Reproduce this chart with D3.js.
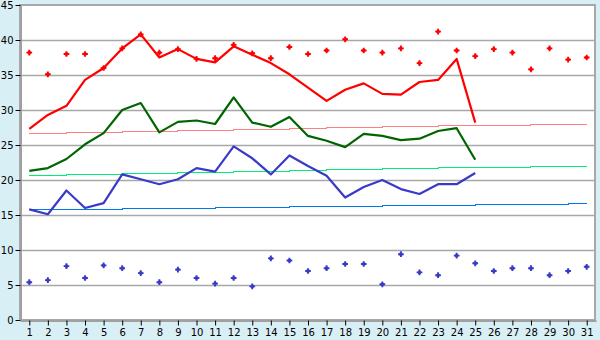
<!DOCTYPE html>
<html>
<head>
<meta charset="utf-8">
<script src="https://cdn.jsdelivr.net/npm/d3@7"></script>
<style>
  body { margin: 0; background: #d9eff6; }
  text { font-family: "DejaVu Sans", Verdana, sans-serif; font-size: 10px; fill: #000; }
</style>
</head>
<body>
<script>
var width = 600, height = 340;
var margin = {top: 5, right: 4, bottom: 20, left: 20};

// days of the month
var days = d3.range(1, 32);
var yTicks = [0, 5, 10, 15, 20, 25, 30, 35, 40, 45];

// daily max / mean / min (days 1..25)
var maxTemp = [27.3, 29.3, 30.6, 34.3, 36.0, 38.8, 40.8, 37.5, 38.7, 37.3, 36.8, 39.1, 37.9, 36.7, 35.1,
               33.2, 31.3, 32.9, 33.8, 32.3, 32.2, 34.0, 34.3, 37.3, 28.2];
var meanTemp = [21.3, 21.7, 23.0, 25.1, 26.7, 30.0, 31.0, 26.8, 28.3, 28.5, 28.0, 31.8, 28.2, 27.6, 29.0,
                26.3, 25.6, 24.7, 26.6, 26.3, 25.7, 25.9, 27.0, 27.4, 22.9];
var minTemp = [15.8, 15.1, 18.5, 16.0, 16.7, 20.8, 20.1, 19.4, 20.1, 21.7, 21.2, 24.8, 23.1, 20.8, 23.5,
               22.0, 20.6, 17.5, 19.0, 20.0, 18.7, 18.0, 19.4, 19.4, 21.0];

// record high / low for each day
var recordMax = [38.2, 35.1, 38.0, 38.0, 36.0, 38.8, 40.8, 38.2, 38.7, 37.3, 37.4, 39.3, 38.1, 37.4, 39.0,
                 38.0, 38.5, 40.1, 38.5, 38.2, 38.8, 36.7, 41.2, 38.5, 37.7, 38.7, 38.2, 35.8, 38.8, 37.2, 37.5];
var recordMin = [5.4, 5.7, 7.7, 6.0, 7.8, 7.4, 6.7, 5.4, 7.2, 6.0, 5.2, 6.0, 4.8, 8.8, 8.5,
                 7.0, 7.4, 8.0, 8.0, 5.1, 9.4, 6.8, 6.4, 9.2, 8.1, 7.0, 7.4, 7.4, 6.4, 7.0, 7.6];

// normals
var normalMax = [26.7, 26.75, 26.8, 26.85, 26.9, 26.95, 27.0, 27.05, 27.1, 27.15, 27.2, 27.25, 27.3, 27.35, 27.4,
                 27.45, 27.5, 27.55, 27.6, 27.65, 27.7, 27.75, 27.8, 27.83, 27.86, 27.89, 27.92, 27.95, 27.97, 27.99, 28.0];
var normalMean = [20.7, 20.75, 20.8, 20.85, 20.9, 20.95, 21.0, 21.05, 21.1, 21.15, 21.2, 21.25, 21.3, 21.35, 21.4,
                  21.45, 21.5, 21.55, 21.6, 21.65, 21.7, 21.75, 21.8, 21.83, 21.86, 21.89, 21.92, 21.95, 21.97, 21.99, 22.0];
var normalMin = [15.8, 15.83, 15.86, 15.89, 15.92, 15.95, 15.98, 16.01, 16.04, 16.07, 16.1, 16.13, 16.16, 16.19, 16.22,
                 16.25, 16.28, 16.31, 16.34, 16.37, 16.4, 16.43, 16.46, 16.49, 16.52, 16.55, 16.58, 16.61, 16.63, 16.65, 16.67];

var svg = d3.select("body").append("svg")
    .attr("width", width)
    .attr("height", height);

var x = d3.scalePoint()
    .domain(days)
    .range([margin.left, width - margin.right])
    .padding(0.5);

var y = d3.scaleLinear()
    .domain([0, 45])
    .range([height - margin.bottom, margin.top]);

// plot area
svg.append("rect")
    .attr("x", margin.left)
    .attr("y", margin.top)
    .attr("width", width - margin.right - margin.left - 1)
    .attr("height", height - margin.bottom - margin.top)
    .attr("fill", "#fff")
    .attr("stroke", "#a8a8a8")
    .attr("stroke-width", 2);

// gridlines
svg.append("g")
    .selectAll("line")
    .data(yTicks.slice(1, -1))
    .enter().append("line")
    .attr("x1", margin.left)
    .attr("x2", width - margin.right - 1)
    .attr("y1", function(d) { return Math.round(y(d)) + 0.5; })
    .attr("y2", function(d) { return Math.round(y(d)) + 0.5; })
    .attr("stroke", "#a8a8a8")
    .attr("stroke-width", 1.3);

// axes
var yAxis = svg.append("g")
    .attr("transform", "translate(" + (margin.left + 0.5) + ",0)")
    .call(d3.axisLeft(y).tickValues(yTicks).tickSize(5).tickSizeOuter(0).tickPadding(2));
yAxis.select(".domain").attr("stroke", "#a0a0a0").attr("stroke-width", 2);
yAxis.selectAll("text").style("font-size", "10px").attr("font-family", null);

var xAxis = svg.append("g")
    .attr("transform", "translate(0," + (height - margin.bottom + 0.5) + ")")
    .call(d3.axisBottom(x).tickSize(5).tickSizeOuter(0).tickPadding(3));
xAxis.select(".domain").attr("stroke", "#a0a0a0").attr("stroke-width", 2);
xAxis.selectAll("text").style("font-size", "10px").attr("font-family", null);

// normals - thin stepped lines
function drawNormal(values, color) {
  var n = d3.line()
      .x(function(d, i) { return x(days[i]); })
      .y(function(d) { return Math.round(y(d)) + 0.5; })
      .curve(d3.curveStepAfter);
  svg.append("path")
      .datum(values)
      .attr("fill", "none")
      .attr("stroke", color)
      .attr("stroke-width", 1)
      .attr("shape-rendering", "crispEdges")
      .attr("d", n);
}
drawNormal(normalMax, "#ff8080");
drawNormal(normalMean, "#00ee77");
drawNormal(normalMin, "#0077ee");

var line = d3.line()
    .x(function(d, i) { return x(days[i]); })
    .y(function(d) { return y(d); });

function drawLine(values, color) {
  svg.append("path")
      .datum(values)
      .attr("fill", "none")
      .attr("stroke", color)
      .attr("stroke-width", 2.2)
      .attr("stroke-linejoin", "round")
      .attr("d", line);
}
drawLine(minTemp, "#3a3ac8");
drawLine(meanTemp, "#006400");
drawLine(maxTemp, "#ff0000");

// record points
var marker = d3.symbol().type(d3.symbolCross).size(18);
var dot = d3.symbol().type(d3.symbolSquare).size(9);
function drawPoints(values, color) {
  var g = svg.append("g")
      .selectAll("g")
      .data(values)
      .enter().append("g")
      .attr("transform", function(d, i) { return "translate(" + x(days[i]) + "," + y(d) + ")"; })
      .attr("fill", color);
  g.append("path").attr("d", marker);
  g.append("path").attr("d", dot);
}
drawPoints(recordMax, "#ff0000");
drawPoints(recordMin, "#3a3ac8");
</script>
</body>
</html>
